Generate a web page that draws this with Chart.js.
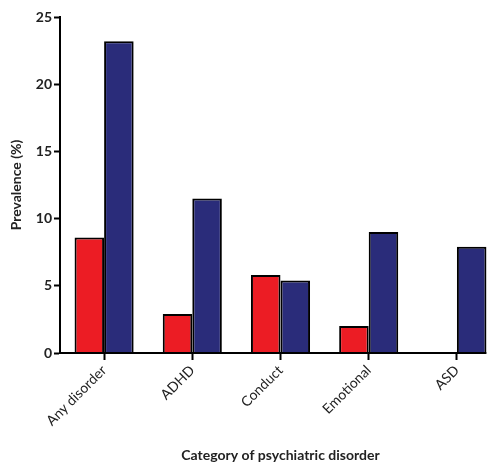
<!DOCTYPE html>
<html>
<head>
<meta charset="utf-8">
<script src="https://cdn.jsdelivr.net/npm/chart.js@4.4.0/dist/chart.umd.min.js"></script>
<style>
  html, body { margin: 0; padding: 0; background: #fff; }
  #wrap { width: 501px; height: 464px; position: relative; }
</style>
</head>
<body>
<div id="wrap"><canvas id="chart"></canvas></div>
<script>
// values
const categories = ['Any disorder', 'ADHD', 'Conduct', 'Emotional', 'ASD'];
const redValues = [8.6, 2.9, 5.8, 2.0, 0];
const blueValues = [23.2, 11.5, 5.4, 9.0, 7.9];
const yTicks = [0, 5, 10, 15, 20, 25];

const FONT = "Lato, 'Open Sans', sans-serif";

// x axis line only runs as far as the last bar
const axisLine = {
  id: 'axisLine',
  afterDatasetsDraw(chart) {
    const ctx = chart.ctx;
    const area = chart.chartArea;
    const meta = chart.getDatasetMeta(1);
    const last = meta.data[meta.data.length - 1];
    const right = last.x + last.width / 2;
    ctx.save();
    ctx.strokeStyle = '#000';
    ctx.lineWidth = 2;
    ctx.beginPath();
    ctx.moveTo(area.left - 1, area.bottom);
    ctx.lineTo(right, area.bottom);
    ctx.stroke();
    ctx.restore();
  }
};

const ctx = document.getElementById('chart').getContext('2d');
new Chart(ctx, {
  type: 'bar',
  data: {
    labels: categories,
    datasets: [
      {
        data: redValues,
        backgroundColor: '#EC1C24',
        borderColor: '#000',
        borderWidth: 2,
        categoryPercentage: 0.67,
        barPercentage: 1.0
      },
      {
        data: blueValues,
        backgroundColor: '#2A2C7A',
        borderColor: '#000',
        borderWidth: 2,
        categoryPercentage: 0.67,
        barPercentage: 1.0
      }
    ]
  },
  options: {
    responsive: true,
    maintainAspectRatio: false,
    animation: false,
    layout: { padding: { top: 17, right: 0, left: 0, bottom: 0 } },
    plugins: {
      legend: { display: false },
      tooltip: { enabled: false }
    },
    scales: {
      x: {
        afterFit: function(scale) { scale.height = 111; },
        border: { display: false },
        grid: {
          offset: false,
          drawOnChartArea: false,
          drawTicks: true,
          tickLength: 7,
          tickWidth: 2,
          tickColor: '#000'
        },
        ticks: {
          minRotation: 45,
          maxRotation: 45,
          padding: 2,
          color: '#222',
          font: { family: FONT, size: 14 }
        },
        title: {
          display: true,
          text: 'Category of psychiatric disorder',
          color: '#222',
          padding: { top: 18, bottom: 0 },
          font: { family: FONT, size: 14, weight: 'bold' }
        }
      },
      y: {
        min: 0,
        max: 25,
        afterFit: function(scale) { scale.width = 60; },
        afterBuildTicks: function(scale) {
          scale.ticks = yTicks.map(v => ({ value: v }));
        },
        border: { display: true, color: '#000', width: 2 },
        grid: {
          drawOnChartArea: false,
          drawTicks: true,
          tickLength: 6,
          tickWidth: 2,
          tickColor: '#000'
        },
        ticks: {
          padding: 2,
          color: '#222',
          font: { family: FONT, size: 14, weight: 'bold' }
        },
        title: {
          display: true,
          text: 'Prevalence (%)',
          color: '#222',
          padding: { top: 8, bottom: 8 },
          font: { family: FONT, size: 14, weight: 'bold' }
        }
      }
    }
  },
  plugins: [axisLine]
});
</script>
</body>
</html>
